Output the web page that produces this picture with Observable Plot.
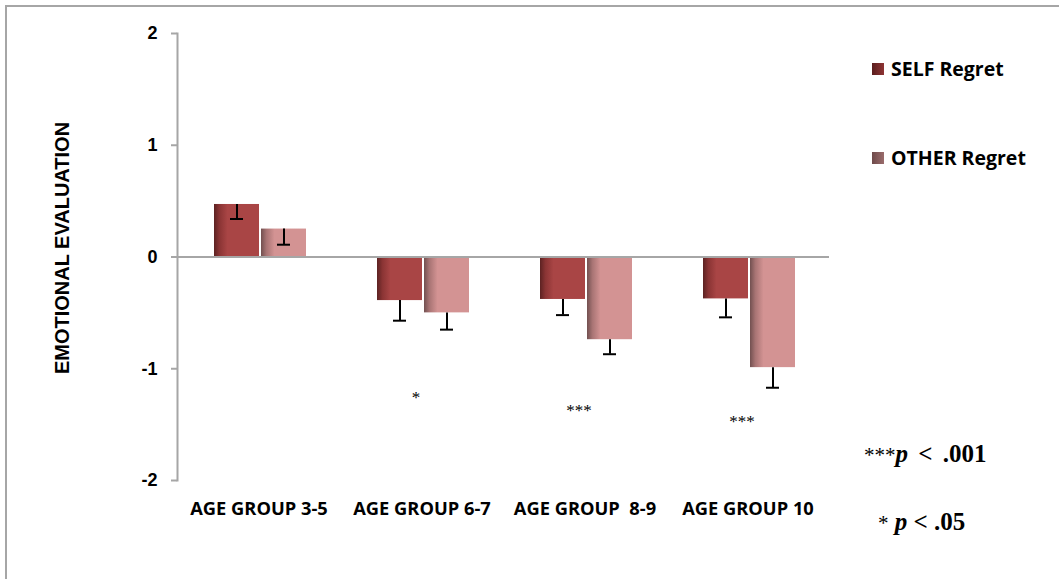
<!DOCTYPE html>
<html>
<head>
<meta charset="utf-8">
<script src="https://cdn.jsdelivr.net/npm/d3@7"></script>
<script src="https://cdn.jsdelivr.net/npm/@observablehq/plot@0.6"></script>
<style>
  html, body { margin: 0; padding: 0; background: #fff; overflow: hidden; }
  #wrap { position: relative; width: 1059px; height: 579px; overflow: hidden; }
  #border { position: absolute; left: 5px; top: 5px; width: 1100px; height: 650px; border: 2px solid #a6a6a6; box-sizing: border-box; }
  #chart { position: absolute; left: 0; top: 0; }
  .leg { position: absolute; font-family: "Open Sans", sans-serif; font-weight: 700; font-size: 19.5px; color: #000; display: flex; align-items: center; white-space: nowrap; line-height: 24px; }
  .sw { width: 12px; height: 12px; margin-right: 7px; }
  .pnote { position: absolute; font-family: "Liberation Serif", "Times New Roman", serif; font-weight: 700; color: #000; white-space: nowrap; line-height: 30px; }
  .pnote .st { font-size: 21px; font-weight: 400; }
  .pnote .big { font-size: 25px; }
</style>
</head>
<body>
<div id="wrap">
  <div id="border"></div>
  <div id="chart"></div>
  <div class="leg" style="left:872px; top:57px;"><div class="sw" style="background:linear-gradient(90deg,#5a1e1e,#8e3434);"></div>SELF Regret</div>
  <div class="leg" style="left:872px; top:146px;"><div class="sw" style="background:linear-gradient(90deg,#6e4a4a,#9a6c6c);"></div>OTHER Regret</div>
  <div class="pnote" style="left:864px; top:439px;"><span class="st">***</span><span class="big" style="word-spacing:4px"><i>p</i> &lt; .001</span></div>
  <div class="pnote" style="left:878px; top:507px;"><span class="st">*</span><span class="big"> <i>p</i> &lt; .05</span></div>
</div>
<script>
const groups = ["AGE GROUP 3-5", "AGE GROUP 6-7", "AGE GROUP  8-9", "AGE GROUP 10"];
const selfMeans = [0.47, -0.39, -0.38, -0.375];
const otherMeans = [0.25, -0.50, -0.74, -0.99];
const selfErr = [0.13, 0.18, 0.14, 0.165];
const otherErr = [0.14, 0.15, 0.13, 0.18];
const stars = ["", "*", "***", "***"];
const starY = [null, -1.26, -1.375, -1.47];
const yTicks = [-2, -1, 0, 1, 2];

const selfData = groups.map((g, i) => ({group: g, value: selfMeans[i], low: selfMeans[i] - selfErr[i]}));
const otherData = groups.map((g, i) => ({group: g, value: otherMeans[i], low: otherMeans[i] - otherErr[i]}));
const starData = groups.map((g, i) => ({group: g, label: stars[i], y: starY[i]})).filter(d => d.label);

const W = 1059, H = 579;
const mL = 177, mR = 230;
const B = (W - mL - mR) / groups.length;

const defs = () => {
  const d = d3.create("svg:defs");
  const mk = (id, dark, mid, main) => {
    const g = d.append("linearGradient").attr("id", id).attr("x1", 0).attr("x2", 1).attr("y1", 0).attr("y2", 0);
    g.append("stop").attr("offset", "0%").attr("stop-color", dark);
    g.append("stop").attr("offset", "12%").attr("stop-color", mid);
    g.append("stop").attr("offset", "30%").attr("stop-color", main);
    g.append("stop").attr("offset", "100%").attr("stop-color", main);
  };
  mk("gSelf", "#5c2222", "#8a3434", "#a94545");
  mk("gOther", "#725050", "#a87474", "#d39393");
  return d.node();
};

const barW = 45;
const sL = 37, oL = 84;
const sC = sL + barW / 2, oC = oL + barW / 2;
const cap = 13;

const chart = Plot.plot({
  width: W,
  height: H,
  marginLeft: mL,
  marginRight: mR,
  marginTop: 33,
  marginBottom: 99,
  style: {background: "transparent", overflow: "visible"},
  x: {domain: groups, padding: 0, label: null},
  y: {domain: [-2, 2], label: null},
  marks: [
    defs,
    Plot.barY(selfData, {x: "group", y: "value", fill: "url(#gSelf)", insetLeft: sL, insetRight: B - sL - barW}),
    Plot.barY(otherData, {x: "group", y: "value", fill: "url(#gOther)", insetLeft: oL, insetRight: B - oL - barW}),
    Plot.ruleY([0], {stroke: "#a6a6a6", strokeWidth: 2}),
    Plot.frame({anchor: "left", stroke: "#a6a6a6", strokeWidth: 2}),
    Plot.ruleX(selfData, {x: "group", y1: "value", y2: "low", dx: sC - B / 2, stroke: "#000", strokeWidth: 2}),
    Plot.ruleX(otherData, {x: "group", y1: "value", y2: "low", dx: oC - B / 2, stroke: "#000", strokeWidth: 2}),
    Plot.tickY(selfData, {x: "group", y: "low", insetLeft: sC - cap / 2, insetRight: B - sC - cap / 2, stroke: "#000", strokeWidth: 2}),
    Plot.tickY(otherData, {x: "group", y: "low", insetLeft: oC - cap / 2, insetRight: B - oC - cap / 2, stroke: "#000", strokeWidth: 2}),
    Plot.text(starData, {x: "group", y: "y", text: "label", dx: -6, fontFamily: "Liberation Serif", fontSize: 17, fill: "#000"}),
    Plot.axisY({ticks: yTicks, tickFormat: d => String(d), tickSize: 6, tickPadding: 14, stroke: "#a6a6a6", strokeWidth: 2, fontFamily: "Liberation Sans", fontWeight: "bold", fontSize: 18, fill: "#000", label: null}),
    Plot.axisX({tickSize: 0, tickPadding: 21, fontFamily: "Open Sans", fontWeight: "bold", fontSize: 18.3, fill: "#000", label: null}),
    Plot.text(["EMOTIONAL EVALUATION"], {frameAnchor: "left", textAnchor: "middle", dx: -115, dy: -9, rotate: -90, fontFamily: "Liberation Sans", fontWeight: "bold", fontSize: 20, fill: "#000", letterSpacing: "-0.1px"})
  ]
});
document.getElementById("chart").appendChild(chart);
</script>
</body>
</html>
